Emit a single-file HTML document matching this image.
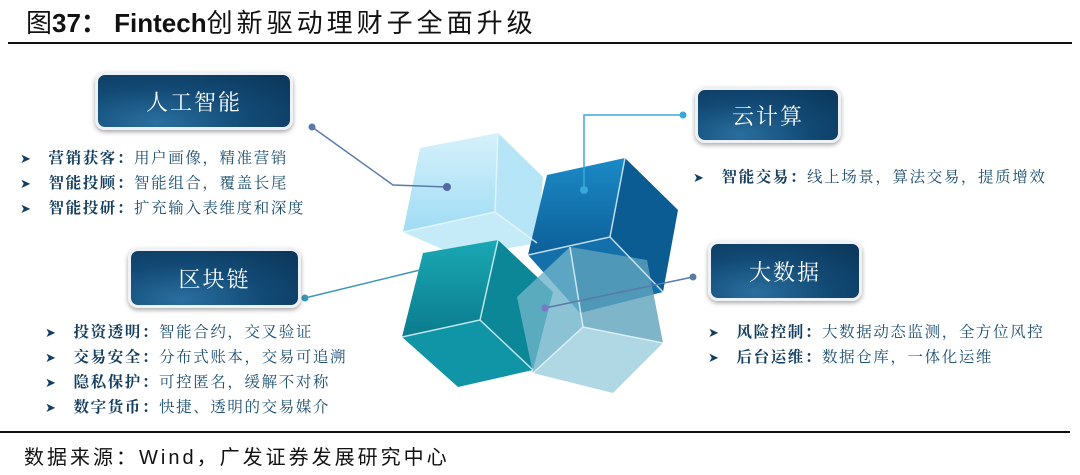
<!DOCTYPE html>
<html><head><meta charset="utf-8"><style>
body{margin:0;width:1080px;height:475px;background:#fff;position:relative;overflow:hidden;font-family:"Liberation Sans","Noto Sans CJK SC",sans-serif;}
.t{position:absolute;left:26px;top:3px;font-size:26px;color:#111;white-space:nowrap;}
.t b{font-weight:bold}
.t span{letter-spacing:4px}
.hl{position:absolute;left:8px;width:1064px;height:2px;background:#111}
.box{position:absolute;border-radius:10px;border:3px solid #eef2f6;box-shadow:0 2px 5px rgba(0,0,0,.35);background:radial-gradient(ellipse at 30% 90%,#2a6f9f 0%,#124a75 50%,#0b3558 100%);color:#fff;font-family:"Noto Serif CJK SC","Noto Sans CJK SC",serif;font-size:22px;display:flex;align-items:center;justify-content:center;letter-spacing:2px}
.l{position:absolute;font-family:"Noto Serif CJK SC","Noto Sans CJK SC",serif;font-size:15.5px;letter-spacing:1.6px;color:#1d4f73;white-space:nowrap;line-height:25px}
.l b{color:#143e60}
.l i{font-style:normal;color:#143e60;margin-right:16px;font-size:13px}
.src{position:absolute;left:24px;top:441px;font-size:20px;color:#111;white-space:nowrap;letter-spacing:3px}
</style></head><body>
<div class="t">图<b>37：&nbsp;Fintech</b><span>创新驱动理财子全面升级</span></div>
<div class="hl" style="top:42px"></div>
<div class="hl" style="top:431px;left:0;width:1070px"></div>
<svg width="1080" height="475" style="position:absolute;left:0;top:0">
<defs>
<linearGradient id="g1" x1="0" y1="0" x2="0" y2="1"><stop offset="0" stop-color="#d6f1fb"/><stop offset="1" stop-color="#9fdcf4"/></linearGradient>
<linearGradient id="g2" x1="0" y1="0" x2="0" y2="1"><stop offset="0" stop-color="#1b8ac6"/><stop offset="1" stop-color="#0d5f98"/></linearGradient>
<linearGradient id="g3" x1="0" y1="0" x2="0" y2="1"><stop offset="0" stop-color="#1aa8b4"/><stop offset="1" stop-color="#0b7c8e"/></linearGradient>
</defs>
<polygon points="420,148 498,133 495,212 403,232" fill="url(#g1)"/>
<polygon points="498,133 543,177 537,243 495,212" fill="#b6e5f7"/>
<polygon points="403,232 495,212 537,243 460,257" fill="#c5ebf8"/>
<polygon points="547,175 625,158 610,237 528,255" fill="url(#g2)"/>
<polygon points="625,158 678,210 663,292 610,237" fill="#0b5c93"/>
<polygon points="528,255 610,237 663,292 580,313" fill="#1470ab"/>
<polygon points="423,253 498,240 480,320 402,337" fill="url(#g3)"/>
<polygon points="498,240 553,292 533,370 480,320" fill="#0c8797"/>
<polygon points="402,337 480,320 533,370 458,387" fill="#1095a6"/>
<polygon points="517,297 570,247 583,327 533,373" fill="#6fb4c9" opacity=".8"/>
<polygon points="570,247 647,260 663,343 583,327" fill="#5ea2bc" opacity=".8"/>
<polygon points="533,373 583,327 663,343 613,393" fill="#a7d3e1" opacity=".9"/>
<g stroke="#e8f8ff" stroke-width="1.5" fill="none" opacity=".8">
<polyline points="498,133 495,212 403,232"/><line x1="495" y1="212" x2="537" y2="243"/>
<polyline points="625,158 610,237 528,255"/><line x1="610" y1="237" x2="663" y2="292"/>
<polyline points="498,240 480,320 402,337"/><line x1="480" y1="320" x2="533" y2="370"/>
<polyline points="570,247 583,327 533,373"/><line x1="583" y1="327" x2="663" y2="343"/>
</g>
<g stroke="#5a7aa8" stroke-width="1.5" fill="none">
<polyline points="312,127 393,185 447,187"/>
<polyline points="683,115 584,115 584,190" stroke="#3aa7d8"/>
<line x1="305" y1="298" x2="420" y2="270" stroke="#3d97b5"/>
<line x1="693" y1="277" x2="545" y2="308"/>
</g>
<circle cx="312" cy="127" r="3.5" fill="#5a7aa8"/><circle cx="447" cy="187" r="4" fill="#4f6aa6"/>
<circle cx="683" cy="115" r="3.5" fill="#3aa7d8"/><circle cx="584" cy="190" r="4" fill="#3aa7d8"/>
<circle cx="305" cy="298" r="3.5" fill="#3d97b5"/>
<circle cx="693" cy="277" r="3.5" fill="#5a7aa8"/><circle cx="545" cy="308" r="3.5" fill="#7a78c4"/>
</svg>
<div class="box" style="left:95px;top:72px;width:192px;height:52px">人工智能</div>
<div class="box" style="left:695px;top:87px;width:140px;height:50px">云计算</div>
<div class="box" style="left:128px;top:248px;width:167px;height:54px">区块链</div>
<div class="box" style="left:708px;top:241px;width:148px;height:54px">大数据</div>
<div class="l" style="left:20px;top:145px"><i>➤</i><b>营销获客：</b>用户画像，精准营销<br><i>➤</i><b>智能投顾：</b>智能组合，覆盖长尾<br><i>➤</i><b>智能投研：</b>扩充输入表维度和深度</div>
<div class="l" style="left:693px;top:164px"><i>➤</i><b>智能交易：</b>线上场景，算法交易，提质增效</div>
<div class="l" style="left:45px;top:319px"><i>➤</i><b>投资透明：</b>智能合约，交叉验证<br><i>➤</i><b>交易安全：</b>分布式账本，交易可追溯<br><i>➤</i><b>隐私保护：</b>可控匿名，缓解不对称<br><i>➤</i><b>数字货币：</b>快捷、透明的交易媒介</div>
<div class="l" style="left:708px;top:319px"><i>➤</i><b>风险控制：</b>大数据动态监测，全方位风控<br><i>➤</i><b>后台运维：</b>数据仓库，一体化运维</div>
<div class="src">数据来源：Wind，广发证券发展研究中心</div>
</body></html>
